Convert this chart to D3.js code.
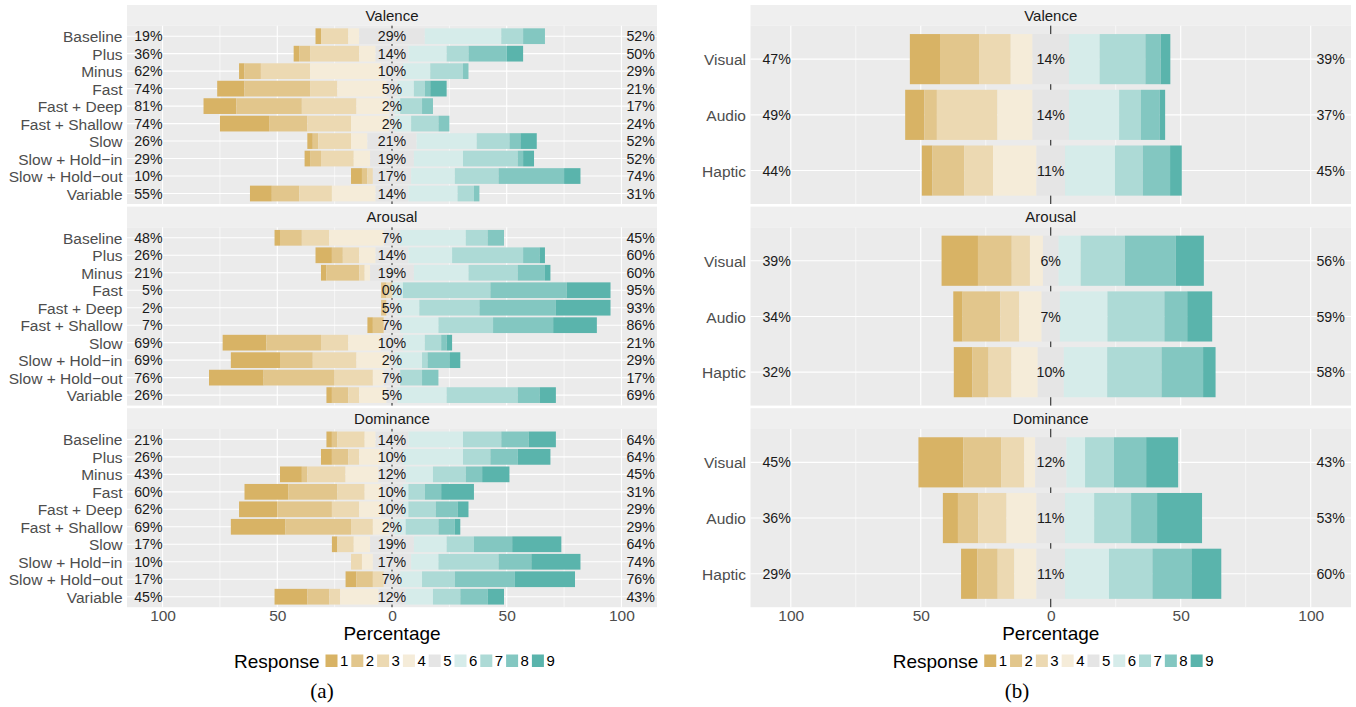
<!DOCTYPE html>
<html>
<head>
<meta charset="utf-8">
<script src="https://cdn.jsdelivr.net/npm/d3@7"></script>
<style>
  body { margin: 0; background: #fff; }
  svg { display: block; }
</style>
</head>
<body>
<svg id="chart" width="1356" height="707" font-family="'Liberation Sans', Arial, Helvetica, sans-serif"></svg>
<script>
// ---------------- DATA ----------------
const responseLevels = ["1", "2", "3", "4", "5", "6", "7", "8", "9"];
const responseColors = ["#D8B365", "#E2C68C", "#ECD9B2", "#F5ECD9", "#E5E5E5",
                        "#D6ECEA", "#ADDAD6", "#83C7C1", "#5AB4AC"];
const facetNames = ["Valence", "Arousal", "Dominance"];
const patternNames = ["Baseline", "Plus", "Minus", "Fast", "Fast + Deep", "Fast + Shallow",
                      "Slow", "Slow + Hold\u2212in", "Slow + Hold\u2212out", "Variable"];
const modalityNames = ["Visual", "Audio", "Haptic"];
const axisTickValues = [-100, -50, 0, 50, 100];
const minorTickValues = [-75, -25, 25, 75];

// (a) number of respondents (of 42) giving each response 1..9, per breathing pattern
const respondents = 42;
const patternValenceCounts = [
  [1, 0, 5, 2, 12, 14, 4, 4, 0],
  [1, 2, 9, 3, 6, 7, 4, 7, 3],
  [1, 3, 9, 13, 4, 5, 6, 1, 0],
  [5, 12, 5, 9, 2, 3, 2, 1, 3],
  [6, 12, 10, 6, 1, 1, 4, 2, 0],
  [9, 7, 8, 7, 1, 3, 5, 2, 0],
  [1, 1, 6, 3, 9, 11, 6, 2, 3],
  [1, 2, 6, 3, 8, 9, 10, 1, 2],
  [2, 1, 1, 0, 7, 8, 8, 12, 3],
  [4, 5, 6, 8, 6, 9, 3, 1, 0]
];
const patternArousalCounts = [
  [1, 4, 5, 10, 3, 12, 4, 3, 0],
  [3, 2, 3, 3, 6, 8, 13, 3, 1],
  [1, 6, 1, 1, 8, 10, 9, 5, 1],
  [0, 1, 1, 0, 0, 2, 16, 14, 8],
  [0, 1, 0, 0, 2, 4, 11, 14, 10],
  [1, 2, 0, 0, 3, 7, 10, 11, 8],
  [8, 10, 5, 6, 4, 4, 3, 1, 1],
  [9, 6, 8, 6, 1, 5, 1, 4, 2],
  [10, 13, 7, 2, 3, 0, 4, 3, 0],
  [1, 3, 2, 5, 2, 9, 13, 4, 3]
];
const patternDominanceCounts = [
  [1, 1, 5, 2, 6, 10, 7, 5, 5],
  [2, 3, 2, 4, 4, 11, 5, 5, 6],
  [4, 1, 7, 6, 5, 5, 6, 3, 5],
  [8, 9, 5, 3, 4, 1, 3, 3, 6],
  [7, 10, 5, 4, 4, 1, 5, 4, 2],
  [10, 12, 4, 3, 1, 2, 6, 3, 1],
  [1, 0, 3, 3, 8, 6, 5, 7, 9],
  [0, 0, 2, 2, 7, 5, 11, 6, 9],
  [2, 3, 2, 0, 3, 4, 6, 11, 11],
  [6, 4, 2, 7, 5, 5, 5, 5, 3]
];

// (b) percentage of responses 1..9 per feedback modality
const modalityValencePct = [
  [11.6, 15.0, 12.2, 8.4, 14.0, 11.8, 17.6, 5.9, 3.7],
  [7.4, 4.8, 23.3, 13.5, 14.0, 19.3, 8.4, 7.2, 2.1],
  [4.1, 12.2, 11.1, 16.7, 11.0, 19.2, 10.7, 10.5, 4.5]
];
const modalityArousalPct = [
  [14.0, 13.0, 7.0, 5.0, 6.0, 8.5, 17.0, 19.6, 10.8],
  [3.6, 14.5, 7.3, 8.6, 7.0, 18.3, 21.9, 8.8, 9.6],
  [7.2, 6.2, 8.8, 10.1, 10.0, 16.7, 20.9, 16.0, 4.8]
];
const modalityDominancePct = [
  [17.3, 14.5, 8.9, 4.2, 12.0, 7.2, 11.1, 12.4, 12.3],
  [5.8, 7.8, 10.9, 11.5, 11.0, 11.2, 14.2, 10.0, 17.3],
  [6.3, 7.8, 6.4, 8.5, 11.0, 16.9, 16.7, 15.0, 11.5]
];

// ---------------- LAYOUT ----------------
const svg = d3.select("#chart");
svg.append("rect").attr("width", 1356).attr("height", 707).attr("fill", "#fff");

const layout = {
  top: 5, stripH: 20.7, panelH: 178.3, gap: 2.6,
  domain: [-115.5, 115.5]
};
const toPct = rows => rows.map(r => r.map(c => c / respondents * 100));

const panels = [
  { left: 127, right: 657, rows: patternNames, caption: "(a)", captionX: 322,
    values: [toPct(patternValenceCounts), toPct(patternArousalCounts), toPct(patternDominanceCounts)] },
  { left: 750.5, right: 1351, rows: modalityNames, caption: "(b)", captionX: 1017,
    values: [modalityValencePct, modalityArousalPct, modalityDominancePct] }
];

function drawPanel(cfg) {
  const g = svg.append("g");
  const x = d3.scaleLinear().domain(layout.domain).range([cfg.left, cfg.right]);
  const center = (cfg.left + cfg.right) / 2;
  let lastBottom = 0;

  facetNames.forEach((facet, fi) => {
    const stripTop = layout.top + fi * (layout.stripH + layout.panelH + layout.gap);
    const pTop = stripTop + layout.stripH;
    const pBot = pTop + layout.panelH;
    lastBottom = pBot;

    // strip
    g.append("rect").attr("x", cfg.left).attr("y", stripTop)
      .attr("width", cfg.right - cfg.left).attr("height", layout.stripH).attr("fill", "#EFEFEF");
    g.append("text").attr("x", center).attr("y", stripTop + layout.stripH / 2)
      .attr("dy", "0.36em").attr("text-anchor", "middle")
      .attr("font-size", 15).attr("fill", "#1A1A1A").text(facet);

    // panel background
    g.append("rect").attr("x", cfg.left).attr("y", pTop)
      .attr("width", cfg.right - cfg.left).attr("height", layout.panelH).attr("fill", "#EBEBEB");

    const y = d3.scalePoint().domain(cfg.rows).range([pTop, pBot]).padding(0.6);
    const bh = y.step() * 0.9;

    // grid
    g.selectAll(null).data(minorTickValues).enter().append("line")
      .attr("x1", d => x(d)).attr("x2", d => x(d)).attr("y1", pTop).attr("y2", pBot)
      .attr("stroke", "#fff").attr("stroke-width", 0.6);
    g.selectAll(null).data(axisTickValues).enter().append("line")
      .attr("x1", d => x(d)).attr("x2", d => x(d)).attr("y1", pTop).attr("y2", pBot)
      .attr("stroke", "#fff").attr("stroke-width", 1.1);
    g.selectAll(null).data(cfg.rows).enter().append("line")
      .attr("x1", cfg.left).attr("x2", cfg.right).attr("y1", d => y(d)).attr("y2", d => y(d))
      .attr("stroke", "#fff").attr("stroke-width", 1.1);

    // zero line
    g.append("line").attr("x1", x(0)).attr("x2", x(0)).attr("y1", pTop).attr("y2", pBot)
      .attr("stroke", "#111").attr("stroke-width", 1);

    // bars
    const vals = cfg.values[fi];
    cfg.rows.forEach((row, ri) => {
      const v = vals[ri];
      const low = d3.sum(v.slice(0, 4));
      const neu = v[4];
      const high = d3.sum(v.slice(5));
      let start = -(low + neu / 2);
      const segs = v.map((val, k) => { const s = { k, x0: start, x1: start + val }; start += val; return s; });
      g.selectAll(null).data(segs.filter(s => s.x1 - s.x0 > 0)).enter().append("rect")
        .attr("x", s => x(s.x0)).attr("width", s => x(s.x1) - x(s.x0))
        .attr("y", y(row) - bh / 2).attr("height", bh)
        .attr("fill", s => responseColors[s.k]);

      const cy = y(row);
      g.append("text").attr("x", x(-100)).attr("y", cy).attr("dy", "0.36em")
        .attr("text-anchor", "end").attr("font-size", 14.2).attr("fill", "#1A1A1A")
        .text(Math.round(low) + "%");
      g.append("text").attr("x", x(0)).attr("y", cy).attr("dy", "0.36em")
        .attr("text-anchor", "middle").attr("font-size", 14.2).attr("fill", "#1A1A1A")
        .text(Math.round(neu) + "%");
      g.append("text").attr("x", x(102.2)).attr("y", cy).attr("dy", "0.36em")
        .attr("text-anchor", "start").attr("font-size", 14.2).attr("fill", "#1A1A1A")
        .text(Math.round(high) + "%");
    });

    // row labels
    const ya = g.append("g").attr("transform", `translate(${cfg.left},0)`)
      .call(d3.axisLeft(y).tickSize(0).tickPadding(4.5));
    ya.select(".domain").remove();
    ya.attr("font-family", null).attr("font-size", null);
    ya.selectAll("text").attr("font-size", 15.5).attr("fill", "#4D4D4D").attr("dy", "0.36em");
  });

  // x axis
  const xa = g.append("g").attr("transform", `translate(0,${lastBottom})`)
    .call(d3.axisBottom(x).tickValues(axisTickValues).tickFormat(d => Math.abs(d)).tickSize(0).tickPadding(2.4));
  xa.select(".domain").remove();
  xa.attr("font-family", null).attr("font-size", null);
  xa.selectAll("text").attr("font-size", 15.5).attr("fill", "#4D4D4D");

  g.append("text").attr("x", center).attr("y", 640).attr("text-anchor", "middle")
    .attr("font-size", 19).attr("fill", "#000").text("Percentage");

  // legend
  const lg = g.append("g").attr("transform", `translate(${center - 158},0)`);
  lg.append("text").attr("x", 0).attr("y", 668).attr("font-size", 19).attr("fill", "#000").text("Response");
  responseLevels.forEach((lev, i) => {
    const kx = 91.5 + i * 25.8;
    lg.append("rect").attr("x", kx).attr("y", 654.5).attr("width", 12).attr("height", 12.5)
      .attr("fill", responseColors[i]);
    lg.append("text").attr("x", kx + 14.5).attr("y", 666).attr("font-size", 15)
      .attr("fill", "#000").text(lev);
  });

  // caption
  g.append("text").attr("x", cfg.captionX).attr("y", 698).attr("text-anchor", "middle")
    .attr("font-family", "'Liberation Serif', 'Times New Roman', serif")
    .attr("font-size", 21).attr("fill", "#000").text(cfg.caption);
}

panels.forEach(drawPanel);
</script>
</body>
</html>
